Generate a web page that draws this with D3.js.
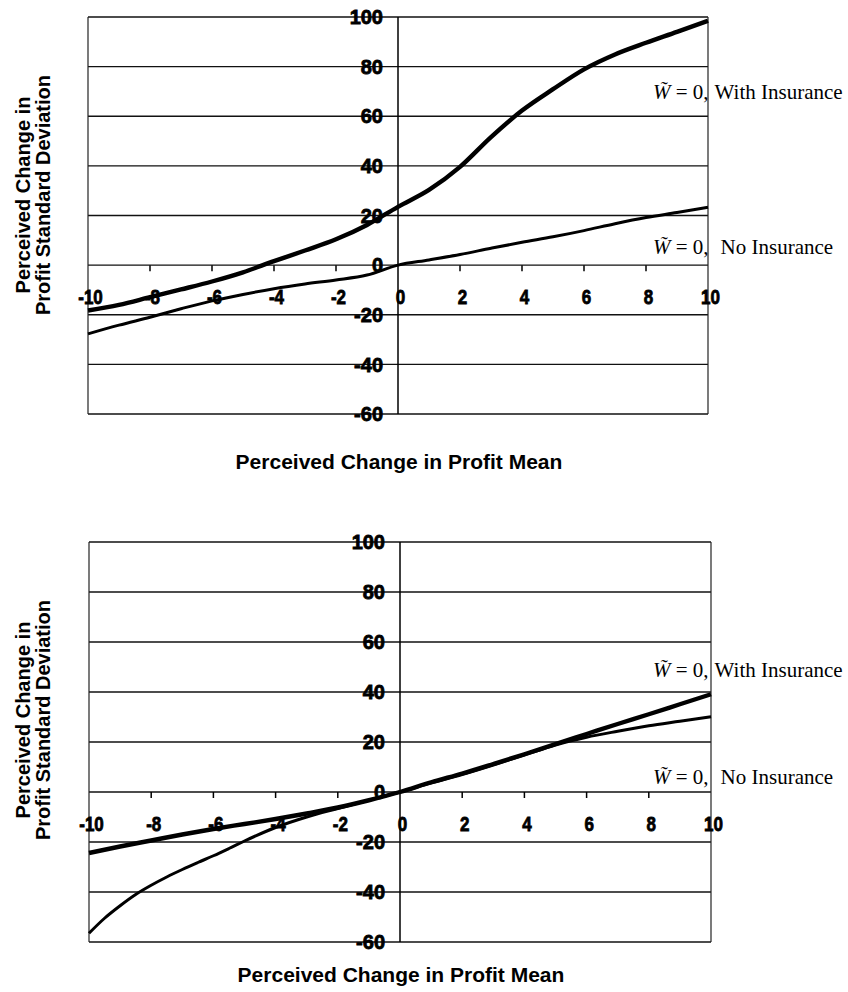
<!DOCTYPE html>
<html><head><meta charset="utf-8">
<script src="https://cdn.jsdelivr.net/npm/d3@7"></script>
<style>body{margin:0;background:#fff} svg{display:block}</style>
</head><body><svg id="c" width="848" height="992"></svg>
<script>
// ---------- data ----------
const xTicks = [-10,-8,-6,-4,-2,0,2,4,6,8,10];
const yTicks = [100,80,60,40,20,0,-20,-40,-60];
const xTitle = "Perceived Change in Profit Mean";
const yTitle = ["Perceived Change in","Profit Standard Deviation"];
const seriesLabels = ["With Insurance","No Insurance"];

// top panel
const topX    = [-10,-9,-8,-7,-6,-5,-4,-3,-2,-1,0,1,2,3,4,5,6,7,8,9,10];
const topWith = [-18.3,-16,-12.9,-9.8,-6.6,-2.9,1.6,5.9,10.4,16.2,23.5,30.3,39.6,51.6,62.3,70.9,78.9,84.9,89.6,94,98.5];
const topNo   = [-27.7,-24.2,-21,-17.6,-14.4,-11.8,-9.5,-7.6,-6,-4,0,2.1,4.3,6.8,9.2,11.4,13.9,16.7,19.2,21.2,23.3];

// bottom panel
const botX     = [-10,-9,-8,-7,-6,-5,-4,-3,-2,-1,0,1,2,3,4,5,6,7,8,9,10];
const botWith  = [-24.4,-21.8,-19.4,-17,-14.8,-12.8,-10.8,-8.6,-6.2,-3.3,0,3.9,7.4,11.2,15.1,19.2,23.2,27.2,31.1,35.1,39.1];
const botNoX   = [-10,-9.5,-9,-8.5,-8,-7.5,-7,-6.5,-6,-5.5,-5,-4,-3,-2,-1,0,1,2,3,4,5,6,7,8,9,10];
const botNo    = [-56.5,-50.5,-45.5,-41,-37.3,-34,-31,-28.2,-25.5,-22.6,-19.6,-14.2,-10,-6.6,-3.3,0,3.6,7,10.8,14.8,18.8,21.9,24.3,26.5,28.3,30.1];

// ---------- drawing ----------
const svg = d3.select("#c");
const panels = [
  {x0:88, x1:708, y0:17, y1:414, xs:[topX, topX], ys:[topWith, topNo], labelY:[92,247], titleY:469, yTitleC:195},
  {x0:89, x1:711, y0:542, y1:942, xs:[botX, botNoX], ys:[botWith, botNo], labelY:[670,777], titleY:982, yTitleC:720}
];
const widths = [4.4, 3];
const font = "'Liberation Sans',Arial,sans-serif";

panels.forEach(p => {
  const x = d3.scaleLinear().domain([-10,10]).range([p.x0,p.x1]);
  const y = d3.scaleLinear().domain([-60,100]).range([p.y1,p.y0]);
  const g = svg.append("g");

  // horizontal gridlines
  g.selectAll("line.h").data(yTicks).join("line")
    .attr("x1",p.x0).attr("x2",p.x1).attr("y1",d=>y(d)).attr("y2",d=>y(d))
    .attr("stroke","#111").attr("stroke-width",1.4);
  // left/right borders
  [-10,10].forEach(v => g.append("line").attr("x1",x(v)).attr("x2",x(v)).attr("y1",p.y0).attr("y2",p.y1)
      .attr("stroke","#222").attr("stroke-width",1.2));
  // vertical axis at 0
  g.append("line").attr("x1",x(0)).attr("x2",x(0)).attr("y1",p.y0).attr("y2",p.y1)
    .attr("stroke","#000").attr("stroke-width",1.5);
  // x tick marks on zero line
  g.selectAll("line.t").data(xTicks.filter(d=>Math.abs(d)<10 && d!==0)).join("line")
    .attr("x1",d=>x(d)).attr("x2",d=>x(d)).attr("y1",y(0)).attr("y2",y(0)+6)
    .attr("stroke","#000").attr("stroke-width",1.5);

  // series
  const line = d3.line().curve(d3.curveMonotoneX).x(d=>x(d[0])).y(d=>y(d[1]));
  p.ys.forEach((vals,i) => {
    const pts = p.xs[i].map((xv,j)=>[xv, vals[j]]);
    g.append("path").attr("d",line(pts)).attr("fill","none")
      .attr("stroke","#000").attr("stroke-width",widths[i]).attr("stroke-linejoin","round");
  });

  // y tick labels
  g.selectAll("text.y").data(yTicks).join("text")
    .attr("x",x(0)-15).attr("y",d=>y(d)).attr("dy","0.36em")
    .attr("text-anchor","end").attr("font-family",font).attr("font-weight","bold")
    .attr("font-size",20).attr("stroke","#000").attr("stroke-width",0.8)
    .text(d=>d);
  // x tick labels
  g.selectAll("text.x").data(xTicks).join("text")
    .attr("transform",d=>`translate(${x(d)+2.5},${y(0)+39}) scale(0.85,1)`)
    .attr("text-anchor","middle").attr("font-family",font).attr("font-weight","bold")
    .attr("font-size",20).attr("stroke","#000").attr("stroke-width",0.8)
    .text(d=>d);

  // x title
  g.append("text").attr("x",(p.x0+p.x1)/2 + 1).attr("y",p.titleY)
    .attr("text-anchor","middle").attr("font-family",font).attr("font-weight","bold")
    .attr("font-size",21).text(xTitle);
  // y title
  yTitle.forEach((t,i) => {
    g.append("text").attr("transform",`translate(${i===0?30:50},${p.yTitleC}) rotate(-90)`)
      .attr("text-anchor","middle").attr("font-family",font).attr("font-weight","bold")
      .attr("font-size",20).text(t);
  });

  // series annotations
  seriesLabels.forEach((lab,i) => {
    const t = g.append("text").attr("x",653).attr("y",p.labelY[i]+7)
      .attr("font-family","'Liberation Serif','Times New Roman',serif").attr("font-size",21);
    t.append("tspan").attr("font-style","italic").text("W\u0303");
    t.append("tspan").text(" = 0,");
    t.append("tspan").attr("dx", i===0?6:12).text(lab);
  });
});
</script>
</body></html>
